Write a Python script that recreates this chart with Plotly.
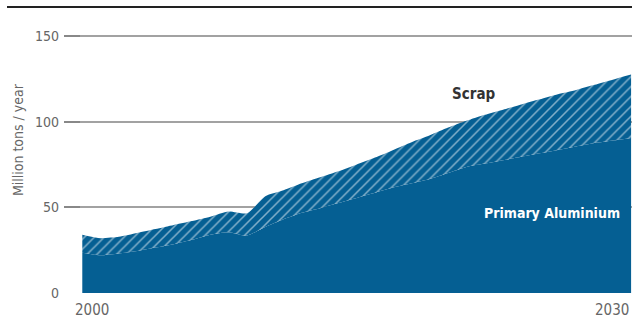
import plotly.graph_objects as go

years = list(range(2000, 2031))
total = [34, 32, 32.8, 35, 37.3, 39.7, 42, 44.5, 47.5, 46.5,
         56.5, 60, 64, 67.5, 71, 75, 79, 83.5, 88, 92,
         96.5, 100.5, 104, 107, 110, 113, 116, 118.5, 121.5, 124.5, 127.5]
primary = [23.5, 22, 23, 24.5, 26.5, 28.5, 31, 34, 35.5, 33.5,
           38.5, 43, 46.8, 49.5, 52.5, 55.5, 58.5, 61.5, 64, 66.5,
           70, 73.5, 75.5, 77.5, 79.5, 81.5, 83.5, 85.5, 87.5, 89, 90.5]
scrap = [t - p for t, p in zip(total, primary)]

y_ticks = [0, 50, 100, 150]
x_ticks = [2000, 2030]
x_tick_labels = ["2000", "2030"]

BLUE = "#055f93"
FONT = "DejaVu Sans Condensed, Liberation Sans Narrow, Roboto, sans-serif"

fig = go.Figure()
fig.add_trace(go.Scatter(
    x=years, y=primary, mode="lines", stackgroup="one",
    line=dict(width=0, shape="spline", smoothing=0.6),
    fillcolor=BLUE, name="Primary Aluminium", hoverinfo="skip"))
fig.add_trace(go.Scatter(
    x=years, y=scrap, mode="lines", stackgroup="one",
    line=dict(width=0, shape="spline", smoothing=0.6),
    fillcolor=BLUE,
    fillpattern=dict(shape="/", bgcolor=BLUE, fgcolor="white", size=7, solidity=0.22),
    name="Scrap", hoverinfo="skip"))

fig.update_layout(
    width=632, height=322,
    margin=dict(l=64, r=0, t=20, b=29),
    paper_bgcolor="white", plot_bgcolor="white",
    showlegend=False,
    font=dict(family=FONT, size=14, color="#666"),
    xaxis=dict(range=[1999.0, 2030.05], showgrid=False, zeroline=False,
               showticklabels=False, showline=False, fixedrange=True),
    yaxis=dict(range=[0, 159.3], tickvals=y_ticks, showgrid=True,
               gridcolor="rgba(100,100,100,0.6)", gridwidth=2,
               zeroline=False, ticks="inside", ticklen=16, tickwidth=2,
               tickcolor="#888", layer="above traces",
               tickfont=dict(family=FONT, size=14, color="#666"),
               ticklabelstandoff=4, showline=False, fixedrange=True),
)

for xv, lab, anc in zip(x_ticks, x_tick_labels, ["left", "right"]):
    fig.add_annotation(x=xv if anc == "right" else xv - 0.5, y=0, yref="y", xref="x",
                       text=lab, showarrow=False, xanchor=anc, yanchor="top",
                       yshift=-6, font=dict(family=FONT, size=15, color="#666"))

fig.add_annotation(xref="paper", yref="paper", x=(18 - 64) / 568, y=0.56,
                   xanchor="center", yanchor="middle",
                   text="Million tons / year", textangle=-90, showarrow=False,
                   font=dict(family=FONT, size=14, color="#666"))
fig.add_annotation(x=2021.4, y=116, text="<b>Scrap</b>", showarrow=False,
                   font=dict(family=FONT, size=15, color="#333"))
fig.add_annotation(x=2025.7, y=46.5, text="<b>Primary Aluminium</b>", showarrow=False,
                   xanchor="center", yanchor="middle",
                   font=dict(family=FONT, size=14, color="white"))

fig.add_shape(type="line", xref="paper", yref="paper",
              x0=(7 - 64) / 568, x1=1.0, y0=(293 - 7) / 273, y1=(293 - 7) / 273,
              line=dict(color="#222", width=2))

fig.write_html("out.html", config={"displayModeBar": False},
               post_script="document.body.style.margin='0';document.body.style.overflow='hidden';")
